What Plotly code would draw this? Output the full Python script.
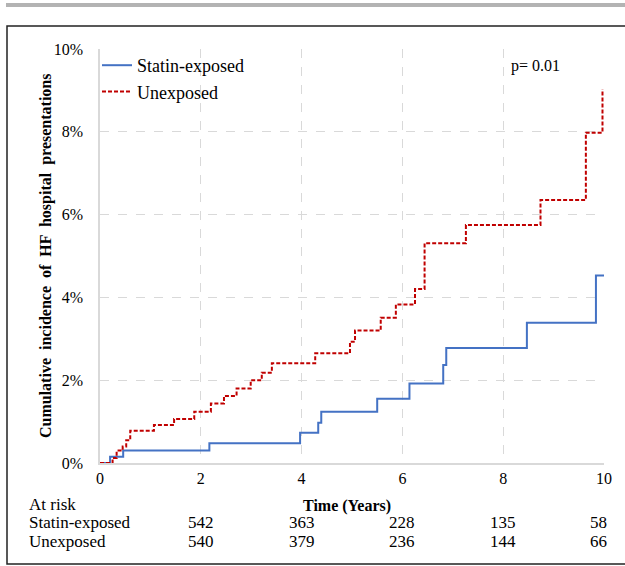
import plotly.graph_objects as go

# ---- data ----
statin_t = [0, 0.20, 0.46, 2.17, 3.97, 4.33, 4.39, 5.50, 6.14, 6.81, 6.87, 8.47, 9.84, 10.0]
statin_v = [0, 0.15, 0.30, 0.48, 0.73, 0.97, 1.24, 1.55, 1.92, 2.37, 2.78, 3.39, 4.53, 4.53]

unexp_t = [0, 0.25, 0.33, 0.45, 0.52, 0.60, 1.07, 1.47, 1.87, 2.20, 2.46, 2.71, 2.99, 3.21,
           3.41, 4.27, 4.96, 5.06, 5.57, 5.87, 6.25, 6.44, 7.26, 8.74, 9.64, 9.97]
unexp_v = [0, 0.12, 0.30, 0.40, 0.55, 0.78, 0.92, 1.06, 1.24, 1.44, 1.62, 1.80, 2.00, 2.18,
           2.41, 2.65, 2.93, 3.20, 3.51, 3.83, 4.20, 5.31, 5.75, 6.35, 7.98, 9.03]

x_ticks = [0, 2, 4, 6, 8, 10]
y_ticks = [0, 2, 4, 6, 8, 10]
risk_times = [2, 4, 6, 8, 10]
risk_statin = [542, 363, 228, 135, 58]
risk_unexp = [540, 379, 236, 144, 66]
p_text = "p= 0.01"

FONT = "Liberation Serif"
W, H = 625, 566
L, R, T, B = 100, 21, 49, 103
pw, ph = W - L - R, H - T - B

def px(xp):  # pixel -> paper x
    return (xp - L) / pw

def py(yp):  # pixel -> paper y
    return (H - B - yp) / ph

fig = go.Figure()
fig.add_trace(go.Scatter(x=statin_t, y=statin_v, mode="lines", line_shape="hv",
                         name="Statin-exposed", line=dict(color="#4472C4", width=2)))
fig.add_trace(go.Scatter(x=unexp_t, y=unexp_v, mode="lines", line_shape="hv",
                         name="Unexposed", line=dict(color="#C00000", width=2, dash="4px,2px")))

ann = []
ann.append(dict(text=p_text, x=px(509), y=py(66), xref="paper", yref="paper",
                xanchor="left", yanchor="middle", showarrow=False,
                font=dict(family=FONT, size=16, color="black")))
ann.append(dict(text="<b>Time (Years)</b>", x=px(347), y=py(506), xref="paper", yref="paper",
                xanchor="center", yanchor="middle", showarrow=False,
                font=dict(family=FONT, size=16, color="black")))
ann.append(dict(text="<b>Cumulative  incidence  of  HF  hospital  presentations</b>",
                x=px(46), y=py(256), xref="paper", yref="paper", textangle=-90,
                xanchor="center", yanchor="middle", showarrow=False,
                font=dict(family=FONT, size=16, color="black")))
for lab, yy in [("At risk", 504), ("Statin-exposed", 522), ("Unexposed", 541)]:
    ann.append(dict(text=lab, x=px(27), y=py(yy), xref="paper", yref="paper",
                    xanchor="left", yanchor="middle", showarrow=False,
                    font=dict(family=FONT, size=17, color="black")))
for t, a, b in zip(risk_times, risk_statin, risk_unexp):
    for val, yy in [(a, 522), (b, 541)]:
        ann.append(dict(text=str(val), x=t, y=py(yy), xref="x", yref="paper",
                        xanchor="center", yanchor="middle", showarrow=False,
                        xshift=-6 if t == 10 else 0,
                        font=dict(family=FONT, size=17, color="black")))

shapes = [
    dict(type="rect", xref="paper", yref="paper", x0=px(6), x1=px(640), y0=py(7), y1=py(3),
         fillcolor="#b3b3b3", line=dict(width=0), layer="below"),
    dict(type="rect", xref="paper", yref="paper", x0=px(7), x1=px(640), y0=py(564), y1=py(26),
         fillcolor="rgba(0,0,0,0)", line=dict(color="#222222", width=1.5), layer="below"),
]

fig.update_layout(
    width=W, height=H, margin=dict(l=L, r=R, t=T, b=B),
    paper_bgcolor="white", plot_bgcolor="white",
    font=dict(family=FONT, size=16, color="black"),
    showlegend=True,
    legend=dict(x=px(97), y=py(47), xanchor="left", yanchor="top",
                bgcolor="rgba(0,0,0,0)", font=dict(family=FONT, size=18, color="black"),
                tracegroupgap=0, itemwidth=30),
    annotations=ann, shapes=shapes,
    xaxis=dict(range=[0, 10], tickvals=x_ticks, ticktext=[str(v) for v in x_ticks],
               showgrid=True, gridcolor="#d9d9d9", griddash="dash", gridwidth=1,
               showline=True, linecolor="#d9d9d9", linewidth=1.5, zeroline=False,
               ticks="", tickfont=dict(family=FONT, size=16, color="black")),
    yaxis=dict(range=[0, 10], tickvals=y_ticks, ticktext=[f"{v}%" for v in y_ticks],
               showgrid=True, gridcolor="#d9d9d9", griddash="dash", gridwidth=1,
               showline=True, linecolor="#d9d9d9", linewidth=1.5, zeroline=False,
               ticks="", ticklabelstandoff=12, tickfont=dict(family=FONT, size=16, color="black")),
)

fig.write_html("out.html", config={"displayModeBar": False},
               post_script="document.body.style.margin='0';document.body.style.overflow='hidden';")
